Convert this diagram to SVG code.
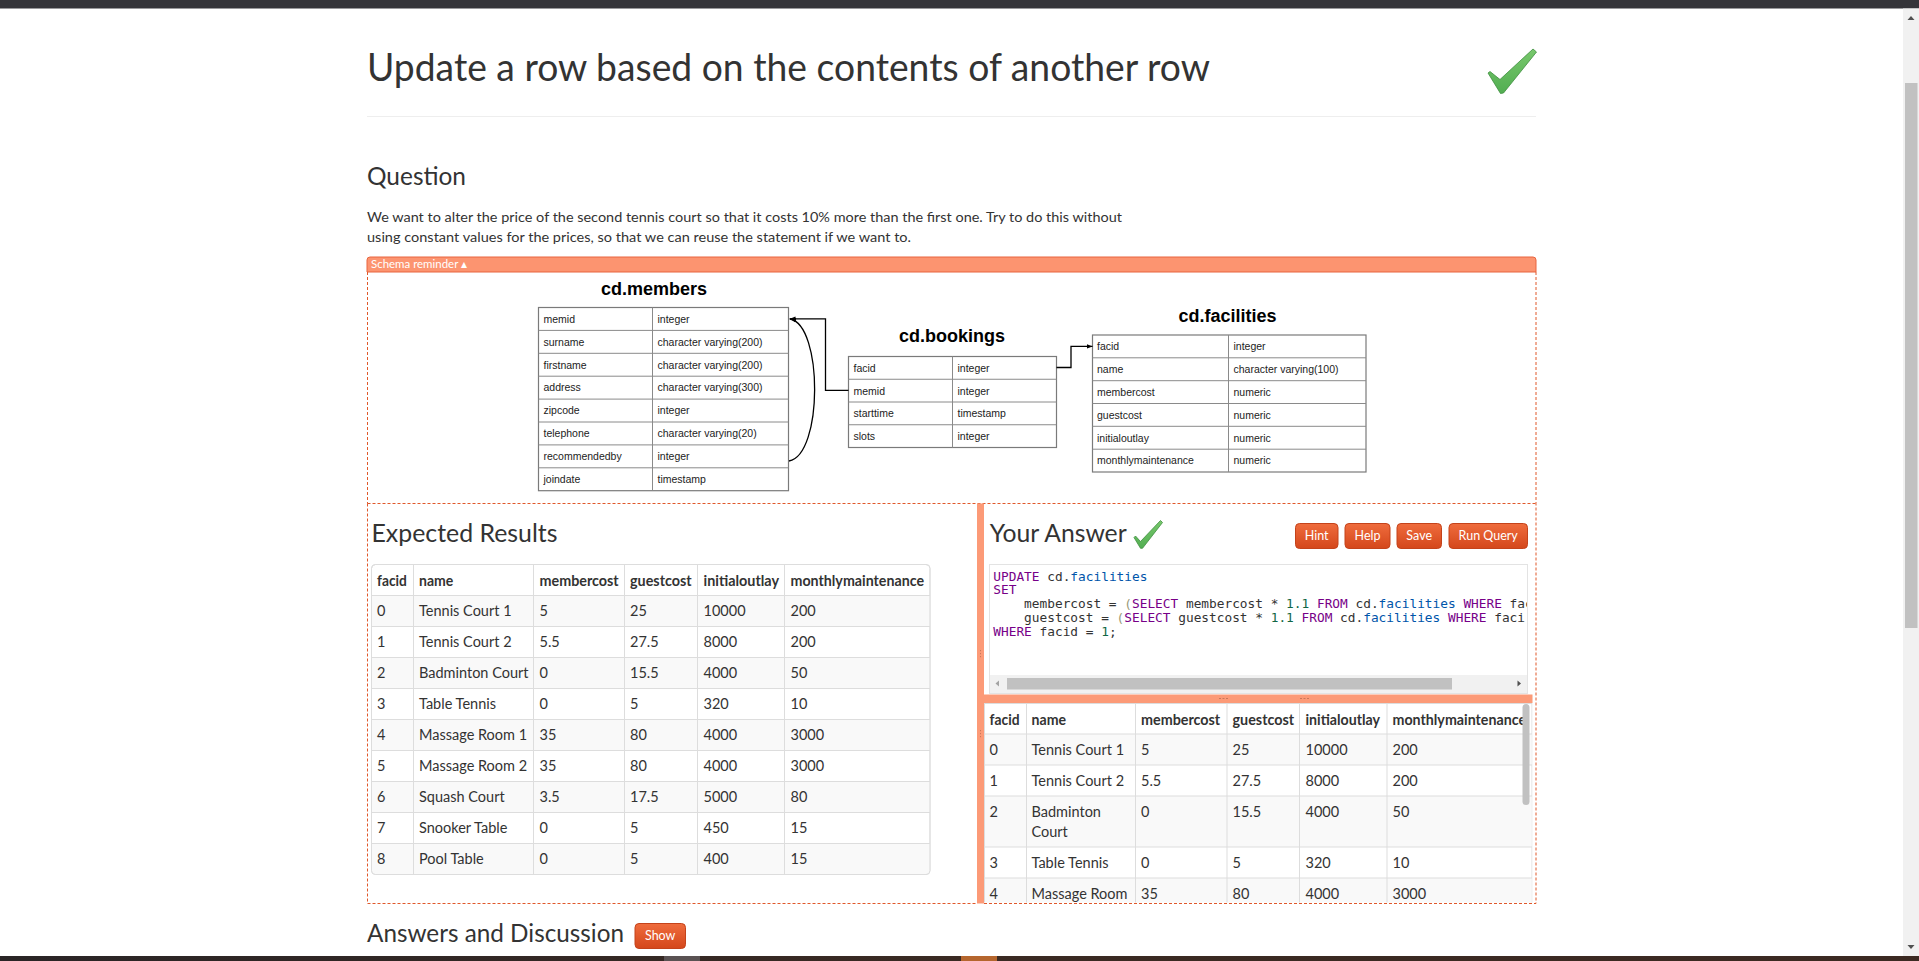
<svg xmlns="http://www.w3.org/2000/svg" width="1919" height="961" viewBox="0 0 1919 961">
<style>
.ui{font-family:Lato,'Open Sans','Noto Sans',sans-serif;fill:#333}
.h{font-weight:normal}
.cell{font-family:Lato,'Open Sans','Noto Sans',sans-serif;font-size:14.5px;fill:#333}
.hd{font-weight:bold}
.sch{font-family:'Liberation Sans',Arial,sans-serif;font-size:10.5px;fill:#222}
.schT{font-family:'Liberation Sans',Arial,sans-serif;font-size:18px;font-weight:bold;fill:#000;text-anchor:middle}
.tb{fill:#fff;stroke:#7a7a7a;stroke-width:1.2}
.tl{stroke:#8a8a8a;stroke-width:1}
.dash{fill:none;stroke:#e0582b;stroke-width:1;stroke-dasharray:3 2}
.grid{stroke:#ddd;stroke-width:1}
.btn{fill:url(#btnG);stroke:#c4431b;stroke-width:1}
.btxt{font-family:Lato,'Open Sans',sans-serif;font-size:12.5px;fill:#fff;text-anchor:middle}
.code{font-family:'DejaVu Sans Mono',monospace;font-size:12.8px;fill:#333}
.kw{fill:#708}.v2{fill:#05a}.num{fill:#164}.br{fill:#997}
.obar{fill:#fc9a77}
.conn{fill:none;stroke:#000;stroke-width:1.3}
.chk{fill:url(#chkG);stroke:#3e8e3e;stroke-width:0.8}
</style>
<defs>
<linearGradient id="btnG" x1="0" y1="0" x2="0" y2="1"><stop offset="0" stop-color="#ef6c3d"/><stop offset="1" stop-color="#d4471b"/></linearGradient>
<linearGradient id="chkG" x1="0" y1="0" x2="0" y2="1"><stop offset="0" stop-color="#78c86c"/><stop offset="1" stop-color="#52ae52"/></linearGradient>
<linearGradient id="botG" x1="0" y1="0" x2="1" y2="0"><stop offset="0" stop-color="#2a2526"/><stop offset="0.5" stop-color="#3a2a23"/><stop offset="1" stop-color="#3c2a22"/></linearGradient>
<marker id="ah" viewBox="0 0 10 10" refX="10" refY="5" markerWidth="6" markerHeight="6" markerUnits="userSpaceOnUse" orient="auto"><path d="M0,1 L10,5 L0,9 Z" fill="#000"/></marker>
<clipPath id="codeClip"><rect x="990" y="565" width="537" height="110"/></clipPath>
<clipPath id="resClip"><rect x="984" y="703" width="548.5" height="199.5"/></clipPath>
</defs>

<rect x="0" y="0" width="1919" height="961" fill="#fff"/>
<!-- top bar -->
<rect x="0" y="0" width="1919" height="8.5" fill="#35353a"/>
<!-- page scrollbar -->
<rect x="1903" y="8.5" width="16" height="947.5" fill="#f1f1f1"/>
<rect x="1905" y="83" width="12.5" height="545" fill="#c1c1c1"/>
<path d="M1907.5,20 L1914.5,20 L1911,16 Z" fill="#505050"/>
<path d="M1907.5,945 L1914.5,945 L1911,949 Z" fill="#505050"/>
<!-- bottom bar -->
<rect x="0" y="956" width="1919" height="5" fill="url(#botG)"/>
<rect x="664" y="956" width="36" height="5" fill="#5a5253"/>
<rect x="961" y="956" width="36" height="5" fill="#b5662e"/>

<!-- title -->
<text class="ui h" x="367" y="80.5" font-size="38.5" textLength="843" lengthAdjust="spacingAndGlyphs">Update a row based on the contents of another row</text>
<path class="chk" d="M1488,73 L1490,71.5 L1500,79.5 L1533,49 L1536.5,52 L1503.5,93 L1500.5,93.5 Z"/>
<line x1="367" y1="116.5" x2="1536" y2="116.5" stroke="#eee" stroke-width="1"/>

<text class="ui h" x="367" y="185" font-size="24.5" textLength="99" lengthAdjust="spacingAndGlyphs">Question</text>
<text class="ui" x="367" y="221.5" font-size="14" textLength="755" lengthAdjust="spacingAndGlyphs">We want to alter the price of the second tennis court so that it costs 10% more than the first one. Try to do this without</text>
<text class="ui" x="367" y="241.5" font-size="14" textLength="544" lengthAdjust="spacingAndGlyphs">using constant values for the prices, so that we can reuse the statement if we want to.</text>

<!-- schema reminder -->
<path d="M367,272 V260 Q367,257 370,257 H1533 Q1536,257 1536,260 V272 Z" fill="#fc9470" stroke="#e8653e" stroke-width="1"/>
<text class="ui" x="371" y="267.5" font-size="11.5" style="fill:#fff" textLength="96" lengthAdjust="spacingAndGlyphs">Schema reminder ▴</text>
<path class="dash" d="M367.5,272 V503.5 M1536,272 V503.5 M367.5,503.5 H1536"/>

<g id="members">
<text class="schT" x="654" y="294.5">cd.members</text>
<rect class="tb" x="538.5" y="307.5" width="250" height="183.2"/>
<path class="tl" d="M652.5,307.5 V490.7 M538.5,330.4 H788.5 M538.5,353.3 H788.5 M538.5,376.2 H788.5 M538.5,399.1 H788.5 M538.5,422 H788.5 M538.5,444.9 H788.5 M538.5,467.8 H788.5"/>
<g class="sch">
<text x="543.5" y="322.7">memid</text><text x="657.5" y="322.7">integer</text>
<text x="543.5" y="345.6">surname</text><text x="657.5" y="345.6">character varying(200)</text>
<text x="543.5" y="368.5">firstname</text><text x="657.5" y="368.5">character varying(200)</text>
<text x="543.5" y="391.4">address</text><text x="657.5" y="391.4">character varying(300)</text>
<text x="543.5" y="414.3">zipcode</text><text x="657.5" y="414.3">integer</text>
<text x="543.5" y="437.2">telephone</text><text x="657.5" y="437.2">character varying(20)</text>
<text x="543.5" y="460.1">recommendedby</text><text x="657.5" y="460.1">integer</text>
<text x="543.5" y="483">joindate</text><text x="657.5" y="483">timestamp</text>
</g>
</g>

<g id="bookings">
<text class="schT" x="952" y="341.7">cd.bookings</text>
<rect class="tb" x="848.5" y="356.5" width="208" height="91"/>
<path class="tl" d="M952.5,356.5 V447.5 M848.5,379.25 H1056.5 M848.5,402 H1056.5 M848.5,424.75 H1056.5"/>
<g class="sch">
<text x="853.5" y="371.7">facid</text><text x="957.5" y="371.7">integer</text>
<text x="853.5" y="394.5">memid</text><text x="957.5" y="394.5">integer</text>
<text x="853.5" y="417.2">starttime</text><text x="957.5" y="417.2">timestamp</text>
<text x="853.5" y="440">slots</text><text x="957.5" y="440">integer</text>
</g>
</g>

<g id="facilities">
<text class="schT" x="1227.5" y="321.7">cd.facilities</text>
<rect class="tb" x="1092.5" y="335" width="273.5" height="137"/>
<path class="tl" d="M1228.5,335 V472 M1092.5,357.8 H1366 M1092.5,380.7 H1366 M1092.5,403.5 H1366 M1092.5,426.3 H1366 M1092.5,449.2 H1366"/>
<g class="sch">
<text x="1097" y="350.2">facid</text><text x="1233.5" y="350.2">integer</text>
<text x="1097" y="373">name</text><text x="1233.5" y="373">character varying(100)</text>
<text x="1097" y="395.9">membercost</text><text x="1233.5" y="395.9">numeric</text>
<text x="1097" y="418.7">guestcost</text><text x="1233.5" y="418.7">numeric</text>
<text x="1097" y="441.5">initialoutlay</text><text x="1233.5" y="441.5">numeric</text>
<text x="1097" y="464.4">monthlymaintenance</text><text x="1233.5" y="464.4">numeric</text>
</g>
</g>

<g id="connectors">
<path class="conn" d="M848.5,390.4 H825.5 V318.9 H789.5" marker-end="url(#ah)"/>
<path class="conn" d="M789,461 C823,455 823,325 790,319" marker-end="url(#ah)"/>
<path class="conn" d="M1056.5,367.5 H1071 V346.4 H1092.5" marker-end="url(#ah)"/>
</g>

<!-- lower panes -->
<path class="dash" d="M367.5,503.5 V903.5 H977 M984,903.5 H1536 V503.5"/>
<rect class="obar" x="977" y="503.5" width="7" height="400"/>
<path d="M980.5,650 v1.2 M980.5,653 v1.2 M980.5,656 v1.2 M980.5,730 v1.2 M980.5,733 v1.2 M980.5,736 v1.2" stroke="#c9785a" stroke-width="1"/>

<!-- Expected results -->
<text class="ui h" x="371.5" y="541.7" font-size="24.5" textLength="186" lengthAdjust="spacingAndGlyphs">Expected Results</text>
<g id="expected">
<rect x="371.5" y="564.5" width="558.5" height="310" rx="4" fill="#fff" stroke="#ddd"/>
<rect x="372" y="595.5" width="557.5" height="31" fill="#f9f9f9"/>
<rect x="372" y="657.5" width="557.5" height="31" fill="#f9f9f9"/>
<rect x="372" y="719.5" width="557.5" height="31" fill="#f9f9f9"/>
<rect x="372" y="781.5" width="557.5" height="31" fill="#f9f9f9"/>
<path d="M372,843.5 H929.5 V870.5 Q929.5,874 926,874 H375.5 Q372,874 372,870.5 Z" fill="#f9f9f9"/>
<path class="grid" d="M372,595.5 H930 M372,626.5 H930 M372,657.5 H930 M372,688.5 H930 M372,719.5 H930 M372,750.5 H930 M372,781.5 H930 M372,812.5 H930 M372,843.5 H930 M413.5,564.5 V874.5 M533.5,564.5 V874.5 M624.5,564.5 V874.5 M697.5,564.5 V874.5 M784.5,564.5 V874.5"/>
<rect x="371.5" y="564.5" width="558.5" height="310" rx="4" fill="none" stroke="#ddd"/>
<g class="cell hd">
<text x="377" y="585.5" textLength="29.8" lengthAdjust="spacingAndGlyphs">facid</text>
<text x="419" y="585.5" textLength="34.3" lengthAdjust="spacingAndGlyphs">name</text>
<text x="539.5" y="585.5" textLength="79.2" lengthAdjust="spacingAndGlyphs">membercost</text>
<text x="630" y="585.5" textLength="61.6" lengthAdjust="spacingAndGlyphs">guestcost</text>
<text x="703.5" y="585.5" textLength="75.5" lengthAdjust="spacingAndGlyphs">initialoutlay</text>
<text x="790.5" y="585.5" textLength="133.5" lengthAdjust="spacingAndGlyphs">monthlymaintenance</text>
</g>
<g class="cell">
<text x="377" y="616">0</text><text x="419" y="616">Tennis Court 1</text><text x="539.5" y="616">5</text><text x="630" y="616">25</text><text x="703.5" y="616">10000</text><text x="790.5" y="616">200</text>
<text x="377" y="647">1</text><text x="419" y="647">Tennis Court 2</text><text x="539.5" y="647">5.5</text><text x="630" y="647">27.5</text><text x="703.5" y="647">8000</text><text x="790.5" y="647">200</text>
<text x="377" y="678">2</text><text x="419" y="678">Badminton Court</text><text x="539.5" y="678">0</text><text x="630" y="678">15.5</text><text x="703.5" y="678">4000</text><text x="790.5" y="678">50</text>
<text x="377" y="709">3</text><text x="419" y="709">Table Tennis</text><text x="539.5" y="709">0</text><text x="630" y="709">5</text><text x="703.5" y="709">320</text><text x="790.5" y="709">10</text>
<text x="377" y="740">4</text><text x="419" y="740">Massage Room 1</text><text x="539.5" y="740">35</text><text x="630" y="740">80</text><text x="703.5" y="740">4000</text><text x="790.5" y="740">3000</text>
<text x="377" y="771">5</text><text x="419" y="771">Massage Room 2</text><text x="539.5" y="771">35</text><text x="630" y="771">80</text><text x="703.5" y="771">4000</text><text x="790.5" y="771">3000</text>
<text x="377" y="802">6</text><text x="419" y="802">Squash Court</text><text x="539.5" y="802">3.5</text><text x="630" y="802">17.5</text><text x="703.5" y="802">5000</text><text x="790.5" y="802">80</text>
<text x="377" y="833">7</text><text x="419" y="833">Snooker Table</text><text x="539.5" y="833">0</text><text x="630" y="833">5</text><text x="703.5" y="833">450</text><text x="790.5" y="833">15</text>
<text x="377" y="864">8</text><text x="419" y="864">Pool Table</text><text x="539.5" y="864">0</text><text x="630" y="864">5</text><text x="703.5" y="864">400</text><text x="790.5" y="864">15</text>
</g>
</g>

<!-- Your answer -->
<text class="ui h" x="989.7" y="541.7" font-size="24.5" textLength="137" lengthAdjust="spacingAndGlyphs">Your Answer</text>
<path class="chk" d="M1134,537.5 L1135.5,536 L1140.5,541.5 L1160.5,520.5 L1162.5,522.5 L1142.5,548.3 L1140.5,548.3 Z"/>
<g id="buttons">
<rect class="btn" x="1295.5" y="523.5" width="42.5" height="25" rx="4"/>
<text class="btxt" x="1316.7" y="540">Hint</text>
<rect class="btn" x="1345" y="523.5" width="45" height="25" rx="4"/>
<text class="btxt" x="1367.5" y="540">Help</text>
<rect class="btn" x="1397" y="523.5" width="44.5" height="25" rx="4"/>
<text class="btxt" x="1419.2" y="540">Save</text>
<rect class="btn" x="1449" y="523.5" width="78.5" height="25" rx="4"/>
<text class="btxt" x="1488.2" y="540">Run Query</text>
</g>

<g id="editor">
<rect x="989.5" y="564.5" width="538" height="129" fill="#fff" stroke="#e3e3e3"/>
<g clip-path="url(#codeClip)">
<text class="code" x="993.3" y="580.5" xml:space="preserve"><tspan class="kw">UPDATE</tspan> cd.<tspan class="v2">facilities</tspan></text>
<text class="code" x="993.3" y="594.3"><tspan class="kw">SET</tspan></text>
<text class="code" x="993.3" y="608.3" xml:space="preserve">    membercost = <tspan class="br">(</tspan><tspan class="kw">SELECT</tspan> membercost * <tspan class="num">1.1</tspan> <tspan class="kw">FROM</tspan> cd.<tspan class="v2">facilities</tspan> <tspan class="kw">WHERE</tspan> fac</text>
<text class="code" x="993.3" y="622.3" xml:space="preserve">    guestcost = <tspan class="br">(</tspan><tspan class="kw">SELECT</tspan> guestcost * <tspan class="num">1.1</tspan> <tspan class="kw">FROM</tspan> cd.<tspan class="v2">facilities</tspan> <tspan class="kw">WHERE</tspan> faci</text>
<text class="code" x="993.3" y="636" xml:space="preserve"><tspan class="kw">WHERE</tspan> facid = <tspan class="num">1</tspan>;</text>
</g>
<rect x="990" y="675" width="537" height="18" fill="#f1f1f1"/>
<rect x="1007" y="678" width="445" height="11.5" fill="#c1c1c1"/>
<path d="M999,680.5 L999,686.5 L995.5,683.5 Z" fill="#a3a3a3"/>
<path d="M1517.5,680.5 L1517.5,686.5 L1521,683.5 Z" fill="#505050"/>
</g>
<rect class="obar" x="984" y="694.5" width="548.5" height="8.5"/>
<path d="M1219,698.5 h2 M1222.5,698.5 h2 M1226,698.5 h2 M1300,698.5 h2 M1303.5,698.5 h2 M1307,698.5 h2" stroke="#c9785a" stroke-width="1"/>

<g id="results" clip-path="url(#resClip)">
<rect x="984.5" y="703.5" width="547.5" height="220" fill="#fff" stroke="#ddd"/>
<rect x="985" y="734" width="546.5" height="31" fill="#f9f9f9"/>
<rect x="985" y="796" width="546.5" height="51" fill="#f9f9f9"/>
<rect x="985" y="878" width="546.5" height="31" fill="#f9f9f9"/>
<path class="grid" d="M985,734 H1532 M985,765 H1532 M985,796 H1532 M985,847 H1532 M985,878 H1532 M1026.5,703.5 V910 M1135.5,703.5 V910 M1227,703.5 V910 M1299.5,703.5 V910 M1387,703.5 V910"/>
<g class="cell hd">
<text x="989.5" y="724.5" textLength="30" lengthAdjust="spacingAndGlyphs">facid</text>
<text x="1031.5" y="724.5" textLength="34.5" lengthAdjust="spacingAndGlyphs">name</text>
<text x="1141" y="724.5" textLength="79.2" lengthAdjust="spacingAndGlyphs">membercost</text>
<text x="1232.5" y="724.5" textLength="61.6" lengthAdjust="spacingAndGlyphs">guestcost</text>
<text x="1305.5" y="724.5" textLength="74.4" lengthAdjust="spacingAndGlyphs">initialoutlay</text>
<text x="1392.5" y="724.5" textLength="133.5" lengthAdjust="spacingAndGlyphs">monthlymaintenance</text>
</g>
<g class="cell">
<text x="989.5" y="754.5">0</text><text x="1031.5" y="754.5">Tennis Court 1</text><text x="1141" y="754.5">5</text><text x="1232.5" y="754.5">25</text><text x="1305.5" y="754.5">10000</text><text x="1392.5" y="754.5">200</text>
<text x="989.5" y="785.5">1</text><text x="1031.5" y="785.5">Tennis Court 2</text><text x="1141" y="785.5">5.5</text><text x="1232.5" y="785.5">27.5</text><text x="1305.5" y="785.5">8000</text><text x="1392.5" y="785.5">200</text>
<text x="989.5" y="816.5">2</text><text x="1031.5" y="816.5">Badminton</text><text x="1031.5" y="836.5">Court</text><text x="1141" y="816.5">0</text><text x="1232.5" y="816.5">15.5</text><text x="1305.5" y="816.5">4000</text><text x="1392.5" y="816.5">50</text>
<text x="989.5" y="867.5">3</text><text x="1031.5" y="867.5">Table Tennis</text><text x="1141" y="867.5">0</text><text x="1232.5" y="867.5">5</text><text x="1305.5" y="867.5">320</text><text x="1392.5" y="867.5">10</text>
<text x="989.5" y="898.5">4</text><text x="1031.5" y="898.5">Massage Room</text><text x="1141" y="898.5">35</text><text x="1232.5" y="898.5">80</text><text x="1305.5" y="898.5">4000</text><text x="1392.5" y="898.5">3000</text>
</g>
<rect x="1522.5" y="704" width="7" height="101" rx="3.5" fill="#c1c1c1"/>
</g>

<!-- answers and discussion -->
<text class="ui h" x="367" y="941.5" font-size="24.5" textLength="257" lengthAdjust="spacingAndGlyphs">Answers and Discussion</text>
<rect class="btn" x="635" y="923.5" width="50.5" height="25" rx="4"/>
<text class="btxt" x="660.2" y="940">Show</text>
</svg>
